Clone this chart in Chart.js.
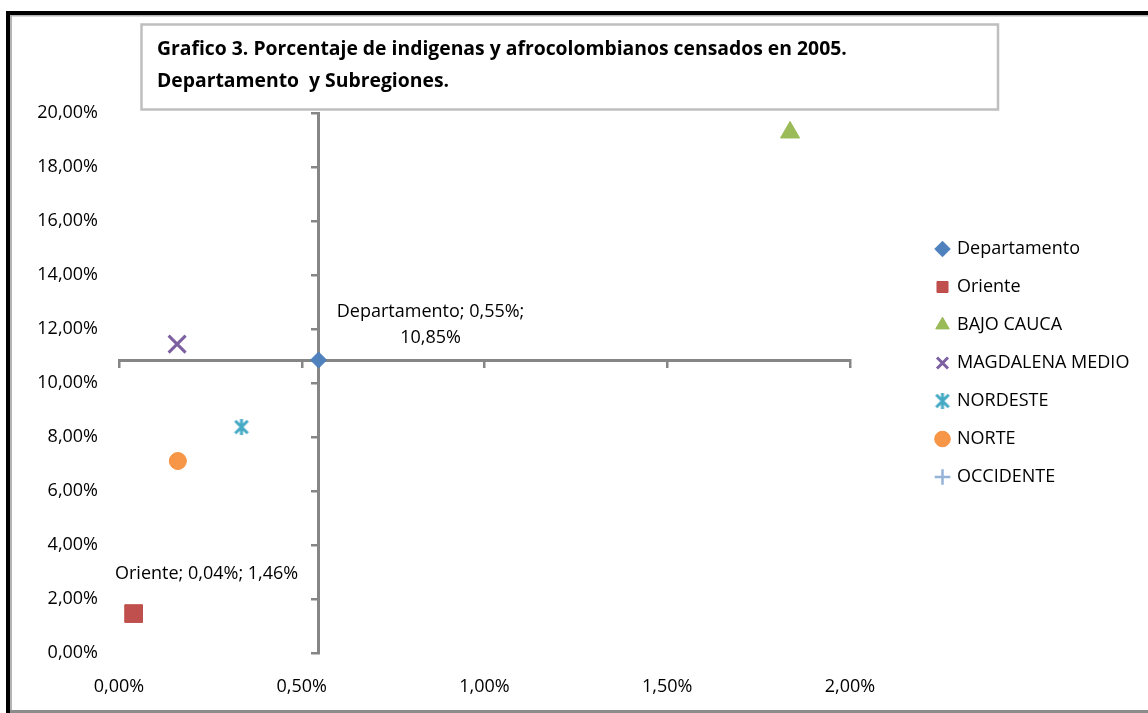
<!DOCTYPE html>
<html>
<head>
<meta charset="utf-8">
<script src="https://cdn.jsdelivr.net/npm/chart.js@4/dist/chart.umd.min.js"></script>
<style>
  html, body { margin: 0; padding: 0; background: #fff; }
  canvas { display: block; }
</style>
</head>
<body>
<canvas id="c" width="1148" height="713"></canvas>
<script>
// ---------------- DATA ----------------
const seriesNames = ['Departamento', 'Oriente', 'BAJO CAUCA', 'MAGDALENA MEDIO', 'NORDESTE', 'NORTE', 'OCCIDENTE'];
const pctIndigenas = [0.546, 0.04, 1.836, 0.159, 0.335, 0.161, null];   // x (%)
const pctAfro      = [10.85, 1.46, 19.28, 11.44, 8.37, 7.11, null];      // y (%)
const xTickValues = [0, 0.5, 1, 1.5, 2];
const yTickValues = [0, 2, 4, 6, 8, 10, 12, 14, 16, 18, 20];
const titleLines = ['Grafico 3. Porcentaje de indigenas y afrocolombianos censados en 2005.',
                    'Departamento  y Subregiones.'];
const labelledSeries = [0, 1];

// ---------------- STYLE ----------------
const FONT = "'Open Sans', 'Noto Sans', sans-serif";
const AXIS_GRAY = '#868686';
const fmt = v => v.toFixed(2).replace('.', ',') + '%';

function makeStar(color, size, lw) {
  const cv = document.createElement('canvas');
  cv.width = size; cv.height = size;
  const g = cv.getContext('2d');
  g.strokeStyle = color; g.lineWidth = lw; g.lineCap = 'butt';
  const c = size / 2, r = size / 2 - 1;
  const d = r * 0.78;
  g.beginPath();
  g.moveTo(c - d, c - d); g.lineTo(c + d, c + d);
  g.moveTo(c + d, c - d); g.lineTo(c - d, c + d);
  g.moveTo(c, c - r); g.lineTo(c, c + r);
  g.stroke();
  return cv;
}

const seriesStyles = [
  { bg: '#4F81BD', bc: '#4A7EBB', style: 'rectRot', r: 8, bw: 1 },
  { bg: '#C0504D', bc: '#BE4B48', style: 'rect', r: 12.5, bw: 1 },
  { bg: '#9BBB59', bc: '#98B954', style: 'triangle', r: 11, bw: 1 },
  { bg: '#8064A2', bc: '#7D60A0', style: 'crossRot', r: 12, bw: 3 },
  { bg: '#4BACC6', bc: '#46AAC5', style: makeStar('#46AAC5', 18, 3), r: 9, bw: 3 },
  { bg: '#F79646', bc: '#F69240', style: 'circle', r: 8.5, bw: 1 },
  { bg: '#95B3D7', bc: '#95B3D7', style: 'cross', r: 8, bw: 2.5 }
];

const labelOffsets = { 0: { dx: 112, dy: [-48, -22] }, 1: { dx: 73, dy: [-40] } };

// legend geometry
const LEG_FONT_SIZE = 18, LEG_PAD = 20, LEG_BOX = 11;
const PLOT_RIGHT = 850, LEG_ITEM_LEFT = 937;
const SPACER = LEG_ITEM_LEFT - LEG_PAD - PLOT_RIGHT;
const LEG_BOX_WIDTH = 100;           // legend box width used for layout
const padRight = 1148 - PLOT_RIGHT - SPACER - LEG_BOX_WIDTH;

// title font sized to the reference line width
const TITLE_WIDTH = 690;
const mctx = document.createElement('canvas').getContext('2d');
mctx.font = "bold 18px 'Open Sans'";
const titleSize = 18 * TITLE_WIDTH / mctx.measureText(titleLines[0]).width;

const datasets = seriesNames.map((name, i) => {
  const s = seriesStyles[i];
  return {
    label: name,
    data: (pctIndigenas[i] == null || pctAfro[i] == null) ? [] : [{ x: pctIndigenas[i], y: pctAfro[i] }],
    backgroundColor: s.bg,
    borderColor: s.bc,
    borderWidth: s.bw,
    pointStyle: s.style,
    pointRadius: s.r,
    pointHoverRadius: s.r,
    pointBorderWidth: s.bw,
    showLine: false
  };
});

const framePlugin = {
  id: 'frame',
  afterLayout(chart) {
    // let the legend draw all the way to the right edge (no clipping of long labels)
    const lg = chart.legend;
    if (lg) { lg.right = chart.width; lg.width = chart.width - lg.left; }
  },
  beforeDraw(chart) {
    const c = chart.ctx;
    c.save();
    c.fillStyle = '#fff';
    c.fillRect(0, 0, chart.width, chart.height);
    c.fillStyle = '#000';
    c.fillRect(6, 11, 4, chart.height - 11);
    c.fillRect(6, 11, chart.width - 6, 4);
    c.fillStyle = '#b4b4b4';
    c.fillRect(10, 15, 2, chart.height - 15);
    c.fillRect(10, 15, chart.width - 10, 1.5);
    c.fillStyle = '#8c8c8c';
    c.fillRect(10, 710, chart.width - 10, 3);
    c.restore();
  },
  afterDraw(chart) {
    const c = chart.ctx;
    c.save();
    c.fillStyle = '#fff';
    c.fillRect(141, 24, 857, 86);
    c.strokeStyle = '#bfbfbf';
    c.lineWidth = 2.5;
    c.strokeRect(141.5, 24.5, 856.5, 85);
    c.fillStyle = '#000';
    c.font = 'bold ' + titleSize.toFixed(2) + "px 'Open Sans', sans-serif";
    c.textAlign = 'left';
    c.textBaseline = 'alphabetic';
    titleLines.forEach((t, i) => c.fillText(t, 157, 55 + i * 32));
    c.restore();
  }
};

const dataLabelPlugin = {
  id: 'dataLabels',
  afterDatasetsDraw(chart) {
    const c = chart.ctx;
    c.save();
    c.fillStyle = '#000';
    c.font = '18px ' + FONT;
    c.textAlign = 'center';
    c.textBaseline = 'middle';
    labelledSeries.forEach(i => {
      const meta = chart.getDatasetMeta(i);
      const pt = meta.data[0];
      if (!pt) return;
      const name = seriesNames[i];
      const xs = fmt(pctIndigenas[i]), ys = fmt(pctAfro[i]);
      const off = labelOffsets[i];
      const lines = off.dy.length === 2 ? [name + '; ' + xs + ';', ys] : [name + '; ' + xs + '; ' + ys];
      lines.forEach((t, k) => c.fillText(t, pt.x + off.dx, pt.y + off.dy[k]));
    });
    c.restore();
  }
};

new Chart(document.getElementById('c'), {
  type: 'scatter',
  data: { datasets },
  plugins: [framePlugin, dataLabelPlugin],
  options: {
    responsive: false,
    animation: false,
    devicePixelRatio: 1,
    layout: { padding: { top: 113, left: 0, bottom: 0, right: padRight } },
    plugins: {
      title: { display: false },
      tooltip: { enabled: false },
      legend: {
        position: 'right',
        align: 'start',
        maxWidth: LEG_BOX_WIDTH,
        title: { display: true, text: '', font: { size: 10, lineHeight: 1 }, padding: { top: 97, bottom: 0 } },
        labels: {
          usePointStyle: true,
          boxWidth: LEG_BOX,
          boxHeight: LEG_BOX,
          padding: LEG_PAD,
          color: '#000',
          font: { family: FONT, size: LEG_FONT_SIZE }
        }
      }
    },
    scales: {
      x: {
        type: 'linear', position: 'bottom', min: 0, max: 2,
        afterBuildTicks: s => { s.ticks = xTickValues.map(v => ({ value: v })); },
        afterFit: s => { s.height = 60; },
        grid: { display: false, drawTicks: false },
        border: { display: false },
        ticks: { color: '#000', padding: 23, maxRotation: 0, font: { family: FONT, size: 18 }, callback: v => fmt(v) }
      },
      y: {
        type: 'linear', position: 'left', min: 0, max: 20,
        afterBuildTicks: s => { s.ticks = yTickValues.map(v => ({ value: v })); },
        afterFit: s => { s.width = 119; },
        grid: { display: false, drawTicks: false },
        border: { display: false },
        ticks: { color: '#000', padding: 21, font: { family: FONT, size: 18 }, callback: v => fmt(v) }
      },
      xc: {
        type: 'linear', axis: 'x', position: { y: pctAfro[0] }, min: 0, max: 2,
        afterBuildTicks: s => { s.ticks = xTickValues.map(v => ({ value: v })); },
        grid: { display: true, drawOnChartArea: false, drawTicks: true, tickLength: 6, color: AXIS_GRAY, lineWidth: 2.5 },
        border: { display: true, color: AXIS_GRAY, width: 3 },
        ticks: { display: false }
      },
      yc: {
        type: 'linear', axis: 'y', position: { x: pctIndigenas[0] }, min: 0, max: 20,
        afterBuildTicks: s => { s.ticks = yTickValues.map(v => ({ value: v })); },
        grid: { display: true, drawOnChartArea: false, drawTicks: true, tickLength: 6, color: AXIS_GRAY, lineWidth: 2.5 },
        border: { display: true, color: AXIS_GRAY, width: 3 },
        ticks: { display: false }
      },
      spacer: {
        type: 'linear', position: 'right', display: true,
        afterFit: s => { s.width = SPACER; },
        grid: { display: false, drawTicks: false },
        border: { display: false },
        ticks: { display: false }
      }
    }
  }
});
</script>
</body>
</html>
